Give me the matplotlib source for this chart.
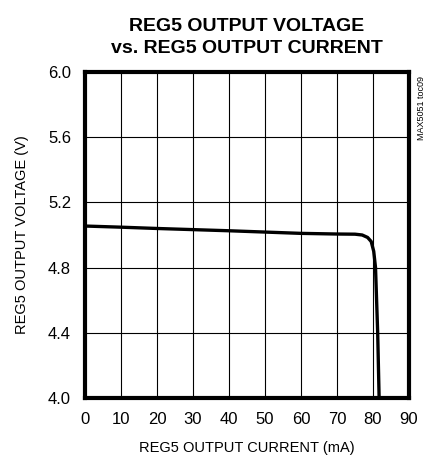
import matplotlib
matplotlib.use('Agg')
import matplotlib.pyplot as plt

plt.rcParams['font.family'] = ['Liberation Sans Narrow', 'Liberation Sans', 'DejaVu Sans']

# REG5 output current (mA) vs output voltage (V)
current = [0, 10, 20, 30, 40, 50, 60, 70, 75, 77, 78.5, 79.5, 80.2, 80.7, 81.3, 81.7]
voltage = [5.055, 5.048, 5.040, 5.033, 5.026, 5.018, 5.010, 5.006, 5.005, 5.0,
           4.985, 4.96, 4.90, 4.8, 4.4, 4.0]

x_ticks = list(range(0, 91, 10))
y_ticks = [4.0, 4.4, 4.8, 5.2, 5.6, 6.0]

fig = plt.figure(figsize=(4.29, 4.55), dpi=100)
ax = fig.add_axes([85 / 429, 1 - 398 / 455, 324 / 429, 326 / 455])

ax.plot(current, voltage, color='black', linewidth=2.4, solid_capstyle='butt')

ax.set_xlim(0, 90)
ax.set_ylim(4.0, 6.0)
ax.set_xticks(x_ticks)
ax.set_yticks(y_ticks)
ax.set_yticklabels([f'{v:.1f}' for v in y_ticks])
ax.grid(True, color='black', linewidth=0.8)
ax.tick_params(length=0, labelsize=12, pad=10)
for s in ax.spines.values():
    s.set_linewidth(3)

ax.set_xlabel('REG5 OUTPUT CURRENT (mA)', fontsize=10.5, labelpad=10)
ax.set_ylabel('REG5 OUTPUT VOLTAGE (V)', fontsize=10.5, labelpad=14)
ax.set_title('REG5 OUTPUT VOLTAGE\nvs. REG5 OUTPUT CURRENT', fontsize=14,
             fontweight='bold', linespacing=1.35, pad=14)

fig.text(421 / 429, 1 - 108 / 455, 'MAX5051 toc09', rotation=90, fontsize=6.5,
         ha='center', va='center')

fig.savefig('out.png', dpi=100)
